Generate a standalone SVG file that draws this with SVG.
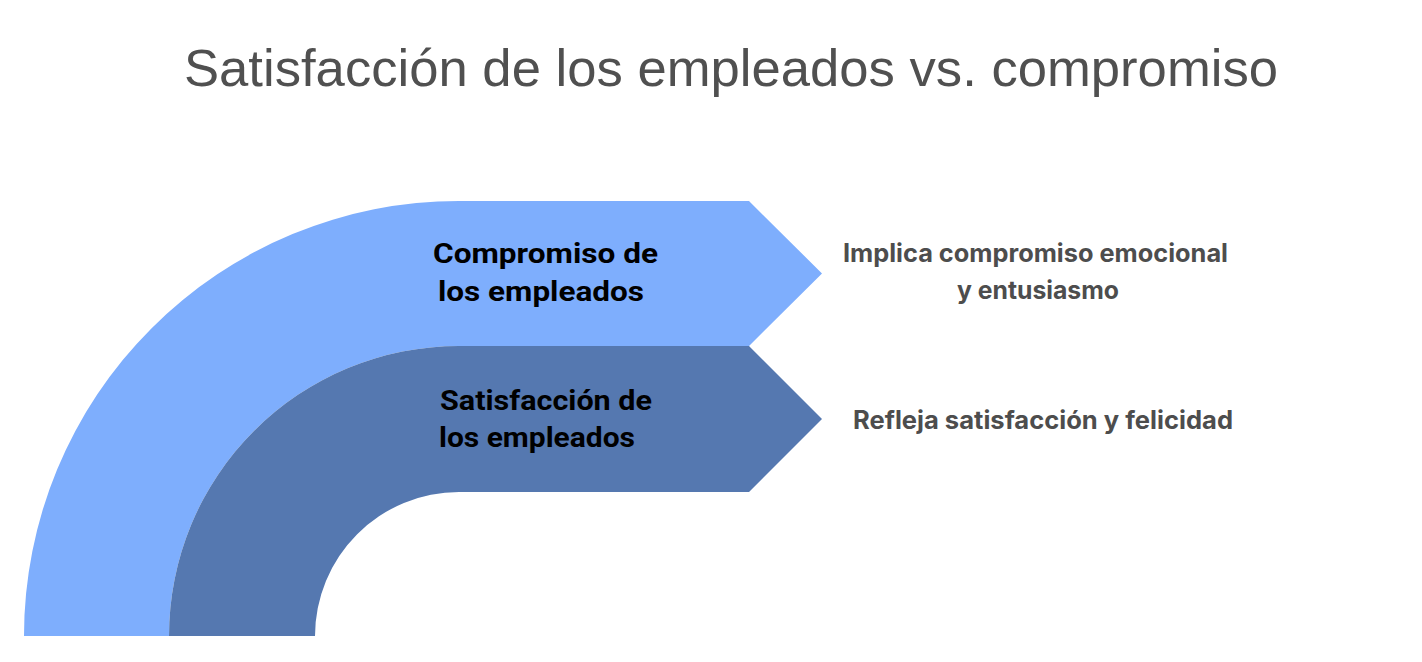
<svg xmlns="http://www.w3.org/2000/svg" width="1422" height="662" viewBox="0 0 1422 662">
<style>
.title{font-family:"Liberation Sans",Arial,sans-serif;font-size:52px;fill:#505050}
.lbl{font-family:Roboto,"Liberation Sans",sans-serif;font-weight:700;font-size:28px;fill:#000}
.desc{font-family:Inter,"Liberation Sans",sans-serif;font-weight:700;font-size:25px;fill:#4d4d4d}
</style>
<rect width="1422" height="662" fill="#fff"/>
<text class="title" x="184" y="86" textLength="1094" lengthAdjust="spacingAndGlyphs">Satisfacción de los empleados vs. compromiso</text>
<g id="compromiso">
<path d="M24 636 A435 435 0 0 1 459 201 L749 201 L822 273.5 L749 346 L459 346 A290 290 0 0 0 169 636 Z" fill="#7eaefd"/>
<text class="lbl" x="433" y="263" textLength="225" lengthAdjust="spacingAndGlyphs">Compromiso de</text>
<text class="lbl" x="438" y="301" textLength="206" lengthAdjust="spacingAndGlyphs">los empleados</text>
</g>
<g id="satisfaccion">
<path d="M169 636 A290 290 0 0 1 459 346 L749 346 L822 419 L749 492 L459 492 A144 144 0 0 0 315 636 Z" fill="#5578b0"/>
<text class="lbl" x="440" y="410" textLength="212" lengthAdjust="spacingAndGlyphs">Satisfacción de</text>
<text class="lbl" x="439" y="447" textLength="196" lengthAdjust="spacingAndGlyphs">los empleados</text>
</g>
<g id="desc-compromiso">
<text class="desc" x="843" y="262" textLength="385" lengthAdjust="spacingAndGlyphs">Implica compromiso emocional</text>
<text class="desc" x="957" y="299" textLength="162" lengthAdjust="spacingAndGlyphs">y entusiasmo</text>
</g>
<g id="desc-satisfaccion">
<text class="desc" x="853" y="429" textLength="380" lengthAdjust="spacingAndGlyphs">Refleja satisfacción y felicidad</text>
</g>
<g id="connectors"></g>
</svg>
